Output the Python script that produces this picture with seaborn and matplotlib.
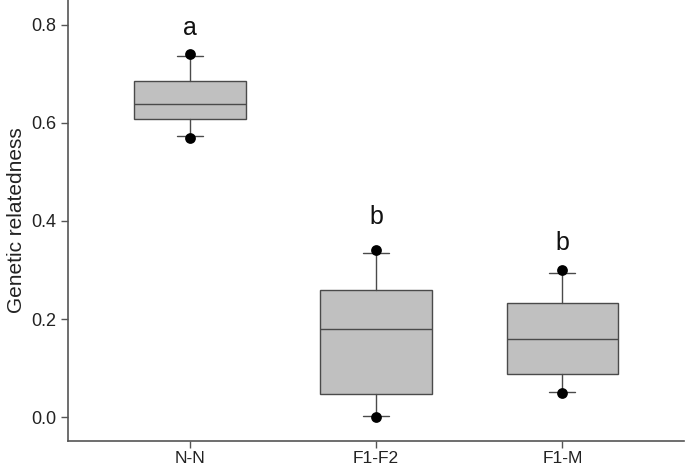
import matplotlib
matplotlib.use("Agg")
import matplotlib.pyplot as plt
import seaborn as sns
import pandas as pd

categories = ["N-N", "F1-F2", "F1-M"]
q1 = [0.607, 0.047, 0.0875]
median = [0.638, 0.180, 0.160]
q3 = [0.686, 0.259, 0.233]
whisker_low = [0.573, 0.003, 0.052]
whisker_high = [0.736, 0.335, 0.294]
dot_low = [0.570, 0.000, 0.050]
dot_high = [0.740, 0.341, 0.301]
letters = ["a", "b", "b"]
letter_y = [0.793, 0.408, 0.355]

sns.set_theme(style="ticks")
plt.rcParams["font.family"] = ["Liberation Sans", "DejaVu Sans"]

fig = plt.figure(figsize=(6.85, 4.68), dpi=100)
ax = fig.add_axes([0.0993, 0.0577, 0.8997, 0.9423])

stats = []
for i, c in enumerate(categories):
    stats.append(dict(label=c, q1=q1[i], med=median[i], q3=q3[i],
                      whislo=whisker_low[i], whishi=whisker_high[i], fliers=[]))

edge = "#4a4a4a"
ax.bxp(stats, positions=range(len(categories)), widths=0.6, patch_artist=True,
       boxprops=dict(facecolor="#c0c0c0", edgecolor=edge, linewidth=1.0),
       medianprops=dict(color=edge, linewidth=1.0),
       whiskerprops=dict(color=edge, linewidth=1.0),
       capprops=dict(color=edge, linewidth=1.0),
       capwidths=0.14, showfliers=False)

dots = pd.DataFrame({
    "x": list(range(len(categories))) * 2,
    "y": dot_low + dot_high,
})
sns.scatterplot(data=dots, x="x", y="y", ax=ax, color="black", s=60,
                edgecolor="black", linewidth=0, zorder=5, legend=False)

for i, (l, y) in enumerate(zip(letters, letter_y)):
    ax.text(i, y, l, ha="center", va="center", fontsize=18, color="#111111")

ax.set_xlim(-0.655, 2.655)
ax.set_ylim(-0.048, 0.850)
ax.set_xticks(range(len(categories)))
ax.set_xticklabels(categories)
ax.set_yticks([0.0, 0.2, 0.4, 0.6, 0.8])
ax.set_yticklabels(["0.0", "0.2", "0.4", "0.6", "0.8"])
ax.set_xlabel("")
ax.set_ylabel("Genetic relatedness", fontsize=15, color="#222222", labelpad=4)
ax.tick_params(axis="both", direction="out", length=5, width=1, color="#555555",
               labelsize=13, labelcolor="#222222")
ax.tick_params(axis="x", pad=2, labelsize=12.5)
for s in ["top", "right"]:
    ax.spines[s].set_visible(False)
for s in ["left", "bottom"]:
    ax.spines[s].set_color("#555555")
    ax.spines[s].set_linewidth(1.2)

fig.savefig("out.png", dpi=100)
